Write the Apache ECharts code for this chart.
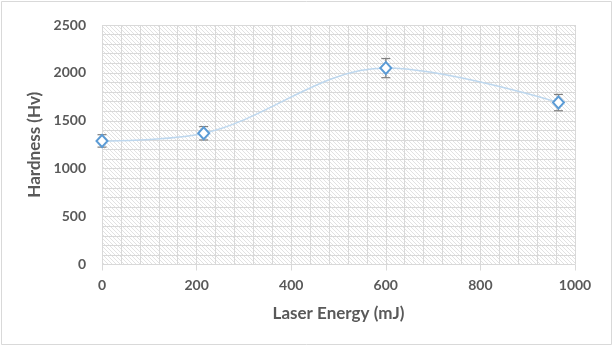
<!DOCTYPE html>
<html>
<head>
<meta charset="utf-8">
<script src="https://cdn.jsdelivr.net/npm/echarts@6/dist/echarts.min.js"></script>
<style>
  html, body { margin: 0; padding: 0; background: #fff; }
  #chart { width: 614px; height: 347px; }
</style>
</head>
<body>
<div id="chart"></div>
<script>
// Laser energy (mJ) and measured hardness (Hv) with standard deviation
var energy = [0, 215, 600, 965];
var hardness = [1290, 1370, 2050, 1690];
var hardnessErr = [65, 70, 100, 85];

var xTicks = [0, 200, 400, 600, 800, 1000];
var yTicks = [0, 500, 1000, 1500, 2000, 2500];

var FONT = 'Lato';
var TEXT = '#595959';
var GRID = '#d9d9d9';

// Diagonal hatch tile used as the plot-area background
function hatchTile() {
  var c = document.createElement('canvas');
  c.width = 4; c.height = 4;
  var g = c.getContext('2d');
  g.fillStyle = '#ffffff';
  g.fillRect(0, 0, 4, 4);
  g.strokeStyle = '#e2e2e2';
  g.lineWidth = 1;
  g.beginPath();
  g.moveTo(-1, -1); g.lineTo(5, 5);
  g.moveTo(-1, 3); g.lineTo(1, 5);
  g.moveTo(3, -1); g.lineTo(5, 1);
  g.stroke();
  return c;
}

var points = energy.map(function (x, i) { return [x, hardness[i]]; });
var bars = energy.map(function (x, i) {
  return [x, hardness[i] - hardnessErr[i], hardness[i] + hardnessErr[i]];
});

var plain = function (v) { return String(v); };

var chart = echarts.init(document.getElementById('chart'), null, { renderer: 'canvas' });

chart.setOption({
  backgroundColor: '#ffffff',
  animation: false,
  graphic: [{
    type: 'rect',
    shape: { x: 1.5, y: 1.5, width: 610, height: 343 },
    style: { fill: null, stroke: '#d9d9d9', lineWidth: 1 },
    silent: true
  }],
  grid: {
    left: 102, right: 39, top: 25, bottom: 82.5,
    show: true,
    borderWidth: 0,
    backgroundColor: { image: hatchTile(), repeat: 'repeat' }
  },
  xAxis: {
    type: 'value',
    min: xTicks[0], max: xTicks[xTicks.length - 1], interval: 200,
    name: 'Laser Energy (mJ)',
    nameLocation: 'middle',
    nameGap: 41,
    nameTextStyle: { fontFamily: FONT, fontWeight: 'bold', fontSize: 17, color: TEXT },
    axisLine: { show: false },
    axisTick: { show: true, length: 6, lineStyle: { color: GRID } },
    axisLabel: { fontFamily: FONT, fontWeight: 'bold', fontSize: 14, color: TEXT, margin: 14, formatter: plain },
    splitLine: { show: true, lineStyle: { color: GRID, width: 1 } },
    minorTick: { show: false, splitNumber: 5 },
    minorSplitLine: { show: true, lineStyle: { color: GRID, width: 1 } }
  },
  yAxis: {
    type: 'value',
    min: yTicks[0], max: yTicks[yTicks.length - 1], interval: 500,
    name: 'Hardness (Hv)',
    nameLocation: 'middle',
    nameGap: 56,
    nameTextStyle: { fontFamily: FONT, fontWeight: 'bold', fontSize: 17, color: TEXT },
    axisLine: { show: false },
    axisTick: { show: false },
    axisLabel: { fontFamily: FONT, fontWeight: 'bold', fontSize: 14, color: TEXT, margin: 16, formatter: plain },
    splitLine: { show: true, lineStyle: { color: GRID, width: 1 } },
    minorTick: { show: false, splitNumber: 5 },
    minorSplitLine: { show: true, lineStyle: { color: GRID, width: 1 } }
  },
  series: [
    {
      type: 'custom',
      name: 'error',
      data: bars,
      z: 2,
      renderItem: function (params, api) {
        var x = api.value(0);
        var lo = api.coord([x, api.value(1)]);
        var hi = api.coord([x, api.value(2)]);
        var cap = 4.5;
        var st = { stroke: '#7f7f7f', lineWidth: 1.2 };
        return {
          type: 'group',
          children: [
            { type: 'line', shape: { x1: lo[0], y1: lo[1], x2: hi[0], y2: hi[1] }, style: st },
            { type: 'line', shape: { x1: lo[0] - cap, y1: lo[1], x2: lo[0] + cap, y2: lo[1] }, style: st },
            { type: 'line', shape: { x1: hi[0] - cap, y1: hi[1], x2: hi[0] + cap, y2: hi[1] }, style: st }
          ]
        };
      }
    },
    {
      type: 'line',
      name: 'Hardness',
      data: points,
      smooth: 0.35,
      z: 3,
      symbol: 'diamond',
      symbolSize: [11, 12],
      showAllSymbol: true,
      lineStyle: { color: '#bdd7ee', width: 1.5 },
      itemStyle: { color: '#ffffff', borderColor: '#5b9bd5', borderWidth: 2 }
    }
  ]
});
</script>
</body>
</html>
